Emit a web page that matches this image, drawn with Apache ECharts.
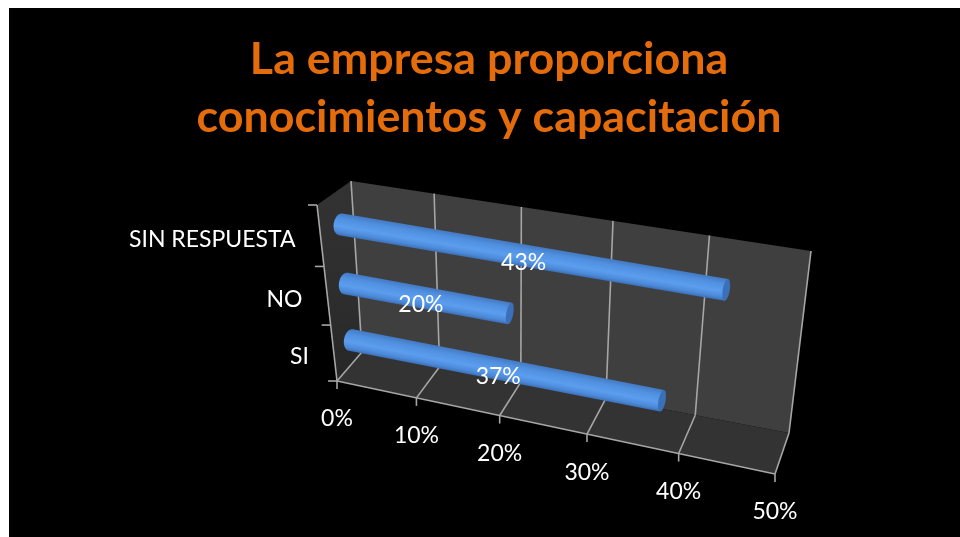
<!DOCTYPE html>
<html><head><meta charset="utf-8">
<style>html,body{margin:0;padding:0;background:#fff;overflow:hidden}
#c{position:absolute;left:9px;top:8px;width:951px;height:529px;background:#000}</style>
<script src="https://cdn.jsdelivr.net/npm/echarts@6/dist/echarts.min.js"></script>
</head><body><div id="c"></div>
<script>
const titleLines = ['La empresa proporciona', 'conocimientos y capacitación'];
const categories = ['SI', 'NO', 'SIN RESPUESTA'];
const values = [37, 20, 43];
const valueTicks = [0, 10, 20, 30, 40, 50];

const ox = 9, oy = 8;
// Box corners in page pixels
const back = {tl:[351,181], tr:[811,251], br:[789,433], bl:[362,352]};
const front = {tl:[317,205], tr:[788,287], br:[775,474], bl:[337,381]};
function homography(q){
  const [x0,y0]=q.bl,[x1,y1]=q.br,[x2,y2]=q.tr,[x3,y3]=q.tl;
  const dx1=x1-x2,dx2=x3-x2,sx=x0-x1+x2-x3,dy1=y1-y2,dy2=y3-y2,sy=y0-y1+y2-y3;
  const den=dx1*dy2-dx2*dy1;
  const g=(sx*dy2-dx2*sy)/den,h=(dx1*sy-sx*dy1)/den;
  const a=x1-x0+g*x1,b=x3-x0+h*x3,d=y1-y0+g*y1,e=y3-y0+h*y3;
  return (u,v)=>{const w=g*u+h*v+1;return [(a*u+b*v+x0)/w,(d*u+e*v+y0)/w];};
}
const hB=homography(back),hF=homography(front);
function P(u0,v,dep){
  const u=u0-0.028*u0*(1-u0);
  const a=hF(u,v),b=hB(u,v);
  return [a[0]+(b[0]-a[0])*dep-ox,a[1]+(b[1]-a[1])*dep-oy];
}
function norm(params,api,val,cat){
  const cs=params.coordSys,c=api.coord([val,cat]);
  return [(c[0]-cs.x)/cs.width,1-(c[1]-cs.y)/cs.height];
}
const LINE='#a6a6a6';
const line=(a,b,w)=>({type:'line',shape:{x1:a[0],y1:a[1],x2:b[0],y2:b[1]},style:{stroke:LINE,lineWidth:w||1.6}});
const poly=(pts,fill)=>({type:'polygon',shape:{points:pts},style:{fill}});
const font=(s,w)=>({fontFamily:'Lato',fontSize:s,fontWeight:w||'normal'});

function renderFrame(params,api){
  if(params.dataIndex>0) return;
  const side=new echarts.graphic.LinearGradient(0,0,0,1,[{offset:0,color:'#333333'},{offset:0.7,color:'#2c2c2c'},{offset:1,color:'#262626'}]);
  return {type:'group',silent:true,children:[
    poly([P(0,0,1),P(1,0,1),P(1,1,1),P(0,1,1)],'#3f3f3f'),
    poly([P(0,0,0),P(0,0,1),P(0,1,1),P(0,1,0)],side),
    poly([P(0,0,0),P(1,0,0),P(1,0,1),P(0,0,1)],'#333333')
  ]};
}
function renderTick(params,api){
  const val=api.value(0),u=norm(params,api,val,0)[0];
  const fb=P(u,0,0),bb=P(u,0,1),bt=P(u,1,1);
  const kids=[line(fb,bb),line(bb,bt),line(fb,[fb[0],fb[1]+8])];
  kids.push({type:'text',style:Object.assign({text:val+'%',x:fb[0],y:fb[1]+38,fill:'#fff',align:'center',verticalAlign:'middle'},font(23))});
  return {type:'group',silent:true,children:kids};
}
function renderAxisEdges(params,api){
  if(params.dataIndex>0) return;
  const kids=[line(P(0,0,0),P(0,1,0)),line(P(0,0,0),P(1,0,0))];
  const n=categories.length;
  for(let i=0;i<=n;i++){
    const p=P(0,i/n,0);
    kids.push(line(p,[p[0]-9,p[1]]));
  }
  return {type:'group',silent:true,children:kids};
}
function renderCatLabel(params,api){
  const i=api.value(0);
  const v=norm(params,api,0,i)[1];
  const p=P(0,v,0);
  return {type:'text',silent:true,style:Object.assign({text:categories[i],x:p[0]-25,y:p[1]+3,fill:'#fff',align:'right',verticalAlign:'middle'},font(23))};
}
const R=11;
function renderBar(params,api){
  const val=api.value(0),i=api.value(1);
  const n=norm(params,api,val,i),u=n[0],v=n[1];
  const a0=P(0,v,0.5),b0=P(u,v,0.5);
  const dx=b0[0]-a0[0],dy=b0[1]-a0[1],len=Math.hypot(dx,dy);
  const ex=dx/len,ey=dy/len,nx=-ey,ny=ex,ang=Math.atan2(dy,dx);
  const a=[a0[0]+ex*4,a0[1]+ey*4];
  const b=[b0[0]+ex*1.5,b0[1]+ey*1.5];
  const g=new echarts.graphic.LinearGradient(a[0]-nx*R,a[1]-ny*R,a[0]+nx*R,a[1]+ny*R,[
    {offset:0,color:'#4379c2'},{offset:0.25,color:'#5090e0'},{offset:0.6,color:'#5c9dee'},{offset:0.85,color:'#4c8ad9'},{offset:1,color:'#3c70b6'}],true);
  const pts=[];
  for(let t=-90;t<=90;t+=10){
    const c=Math.cos(t*Math.PI/180),s=Math.sin(t*Math.PI/180);
    pts.push([a[0]-ex*7*c+nx*R*s,a[1]-ey*7*c+ny*R*s]);
  }
  pts.push([b[0]+nx*R,b[1]+ny*R],[b[0]-nx*R,b[1]-ny*R]);
  return {type:'group',silent:true,children:[
    poly(pts,g),
    {type:'ellipse',shape:{cx:0,cy:0,rx:3.5,ry:R},x:b[0],y:b[1],rotation:-ang,originX:0,originY:0,style:{fill:'#3a70b8'}}
  ]};
}
function renderValueLabel(params,api){
  const val=api.value(0),i=api.value(1);
  const n=norm(params,api,val*0.525,i);
  const p=P(n[0],n[1],0.5);
  return {type:'text',silent:true,style:Object.assign({text:val+'%',x:p[0]-6.5,y:p[1]+6.5,fill:'#fff',align:'center',verticalAlign:'middle'},font(23))};
}
const barData=values.map((v,i)=>[v,i]);
const tickData=valueTicks.map(t=>[t]);
const catData=categories.map((c,i)=>[i]);
const base={type:'custom',coordinateSystem:'cartesian2d',clip:false,animation:false,encode:{x:0}};
const chart=echarts.init(document.getElementById('c'),null,{renderer:'canvas'});
chart.setOption({
  animation:false,backgroundColor:'#000',
  grid:{left:100,right:100,top:100,bottom:100},
  xAxis:{type:'value',min:0,max:50,interval:10,show:false},
  yAxis:{type:'category',data:categories,show:false},
  graphic:titleLines.map((t,i)=>({type:'text',x:480,y:i===0?52:110,silent:true,
    style:Object.assign({text:t,fill:'#E46C0A',align:'center',verticalAlign:'middle'},font(44.8,'bold'))})),
  series:[
    Object.assign({},base,{name:'frame',data:[[0]],renderItem:renderFrame,z:1}),
    Object.assign({},base,{name:'ticks',data:tickData,renderItem:renderTick,z:2}),
    Object.assign({},base,{name:'edges',data:[[0]],renderItem:renderAxisEdges,z:2}),
    Object.assign({},base,{name:'cats',data:catData,renderItem:renderCatLabel,z:2,encode:{y:0}}),
    Object.assign({},base,{name:'bars',data:barData,renderItem:renderBar,z:3,encode:{x:0,y:1}}),
    Object.assign({},base,{name:'labels',data:barData,renderItem:renderValueLabel,z:4,encode:{x:0,y:1}})
  ]
});
</script></body></html>
